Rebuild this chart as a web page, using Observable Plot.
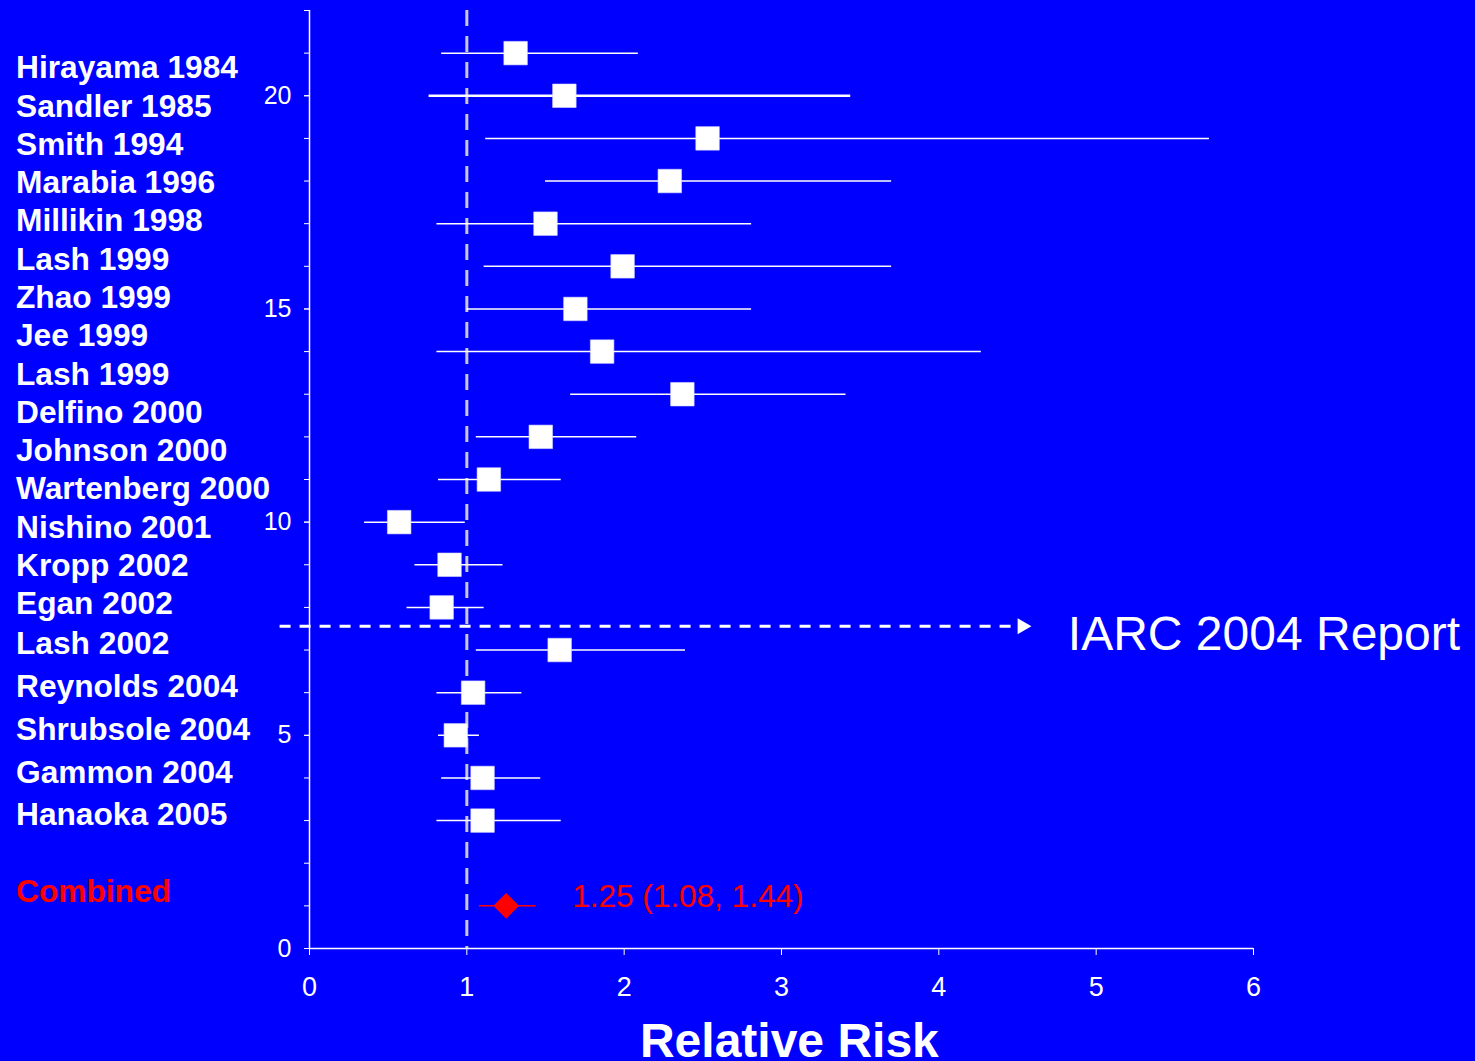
<!DOCTYPE html>
<html>
<head>
<meta charset="utf-8">
<script src="https://cdn.jsdelivr.net/npm/d3@7"></script>
<script src="https://cdn.jsdelivr.net/npm/@observablehq/plot@0.6"></script>
<style>
  html, body { margin: 0; padding: 0; background: #0000ff; }
  #chart { position: relative; width: 1475px; height: 1061px; background: #0000ff; overflow: hidden; }
  #chart svg { position: absolute; left: 0; top: 0; }
  #labels {
    position: absolute; left: 16px; top: 48.25px;
    font-family: "Liberation Sans", Arial, sans-serif; font-weight: bold; font-size: 31.7px;
    color: #ffffff; white-space: nowrap;
  }
  #labels .early div { height: 38.29px; line-height: 38.29px; }
  #labels .late div { height: 42.7px; line-height: 42.7px; }
  #labels .pooled { line-height: 42.7px; margin-top: 33.6px; color: #ff0000; }
</style>
</head>
<body>
<div id="chart">
  <div id="labels"><div class="early"></div><div class="late"></div><div class="pooled"></div></div>
</div>
<script>
// Study names listed down the left side
const studyLabels = [
  "Hirayama 1984", "Sandler 1985", "Smith 1994", "Marabia 1996", "Millikin 1998",
  "Lash 1999", "Zhao 1999", "Jee 1999", "Lash 1999", "Delfino 2000",
  "Johnson 2000", "Wartenberg 2000", "Nishino 2001", "Kropp 2002", "Egan 2002",
  "Lash 2002", "Reynolds 2004", "Shrubsole 2004", "Gammon 2004", "Hanaoka 2005"
];
const pooledLabel = "Combined";

// Individual study estimates (relative risk with 95% CI), one per row
const rows  = [21, 20, 19, 18, 17, 16, 15, 14, 13, 12, 11, 10, 9, 8, 7, 6, 5, 4, 3];
const rr    = [1.31, 1.62, 2.53, 2.29, 1.50, 1.99, 1.69, 1.86, 2.37, 1.47, 1.14, 0.57, 0.89, 0.84, 1.59, 1.04, 0.93, 1.10, 1.10];
const lower = [0.84, 0.76, 1.12, 1.50, 0.81, 1.11, 1.00, 0.81, 1.66, 1.06, 0.82, 0.35, 0.67, 0.62, 1.06, 0.81, 0.82, 0.84, 0.81];
const upper = [2.09, 3.44, 5.72, 3.70, 2.81, 3.70, 2.81, 4.27, 3.41, 2.08, 1.60, 0.99, 1.23, 1.11, 2.39, 1.35, 1.08, 1.47, 1.60];

// Pooled estimate
const pooledRow = 1;
const pooledRR = 1.25;
const pooledLo = 1.08;
const pooledHi = 1.44;

// Axis ticks
const xTicks = [0, 1, 2, 3, 4, 5, 6];
const yLabelTicks = [0, 5, 10, 15, 20];
const yMinorTicks = d3.range(0, 23);

// Annotation: cut-off of the IARC 2004 report
const iarcLabel = "IARC 2004 Report";
const iarcRow = 7.56;
const iarcStart = -0.187;
const iarcEnd = 4.5;
const iarcHead = 4.53;
const iarcTextX = 4.82;
const pooledTextX = 1.67;
const axisTitle = "Relative Risk";
const axisTitleX = 3.05;

// Left-hand labels
const labelsEl = document.getElementById("labels");
const fill = (sel, names) => {
  const el = labelsEl.querySelector(sel);
  names.forEach(n => { const d = document.createElement("div"); d.textContent = n; el.appendChild(d); });
};
fill(".early", studyLabels.slice(0, 15));
fill(".late", studyLabels.slice(15));
labelsEl.querySelector(".pooled").textContent = pooledLabel;

const studies = rows.map((row, i) => ({row, rr: rr[i], lo: lower[i], hi: upper[i]}));
const pooled = [{row: pooledRow, rr: pooledRR, lo: pooledLo, hi: pooledHi}];
const fmt = d3.format(".2f");

const plot = Plot.plot({
  width: 1475,
  height: 1061,
  marginLeft: 309,
  marginRight: 222,
  marginTop: 10,
  marginBottom: 113,
  style: {
    background: "transparent",
    color: "#ffffff",
    fontFamily: '"Liberation Sans", Arial, sans-serif',
    overflow: "visible"
  },
  x: {domain: [0, 6], label: null},
  y: {domain: [0, 22], label: null},
  marks: [
    // reference line at RR = 1
    Plot.ruleX([1], {y1: 22, y2: 0, stroke: "#c8c8c8", strokeWidth: 3, strokeDasharray: "16,10"}),

    // axes
    Plot.ruleX([0], {y1: 0, y2: 22, stroke: "#ffffff", strokeWidth: 1.5}),
    Plot.ruleY([0], {x1: 0, x2: 6, stroke: "#ffffff", strokeWidth: 1.5}),
    Plot.axisY({ticks: yMinorTicks, tickSize: 5, tickFormat: () => "", label: null}),
    Plot.axisY({ticks: yLabelTicks, tickSize: 5, tickPadding: 13, fontSize: 25, tickFormat: "d", label: null}),
    Plot.axisX({ticks: xTicks, tickSize: 7, tickPadding: 21, fontSize: 27, tickFormat: "d", label: null}),
    Plot.text([axisTitle], {
      x: () => axisTitleX, frameAnchor: "bottom", text: d => d,
      fontSize: 48, fontWeight: "bold", lineAnchor: "bottom", dy: 108, fill: "#ffffff"
    }),

    // IARC 2004 arrow and label
    Plot.ruleY([iarcRow], {x1: iarcStart, x2: iarcEnd, stroke: "#ffffff", strokeWidth: 3, strokeDasharray: "11,9"}),
    Plot.dot([iarcRow], {x: () => iarcHead, y: d => d, symbol: "triangle", r: 5.92, rotate: 90, fill: "#ffffff", stroke: null}),
    Plot.text([iarcLabel], {
      x: () => iarcTextX, y: () => iarcRow, text: d => d,
      fontSize: 48, textAnchor: "start", lineAnchor: "bottom", dy: 24, fill: "#ffffff"
    }),

    // study confidence intervals and point estimates
    Plot.ruleY(studies, {y: "row", x1: "lo", x2: "hi", stroke: "#ffffff", strokeWidth: (d, i) => (i === 1 ? 2.5 : 1.5)}),
    Plot.dot(studies, {x: "rr", y: "row", symbol: "square", r: 13.26, fill: "#ffffff", stroke: "#d8d8ff", strokeWidth: 0.6}),

    // pooled estimate
    Plot.ruleY(pooled, {y: "row", x1: "lo", x2: "hi", stroke: "#ff0000", strokeWidth: 1.5}),
    Plot.dot(pooled, {x: "rr", y: "row", symbol: "diamond2", r: 11.58, fill: "#ff0000", stroke: null}),
    Plot.text(pooled, {
      x: () => pooledTextX, y: "row",
      text: d => `${fmt(d.rr)} (${fmt(d.lo)}, ${fmt(d.hi)})`,
      fontSize: 31.5, textAnchor: "start", lineAnchor: "bottom", dy: 1, fill: "#ff0000"
    })
  ]
});

document.getElementById("chart").insertBefore(plot, labelsEl);
</script>
</body>
</html>
